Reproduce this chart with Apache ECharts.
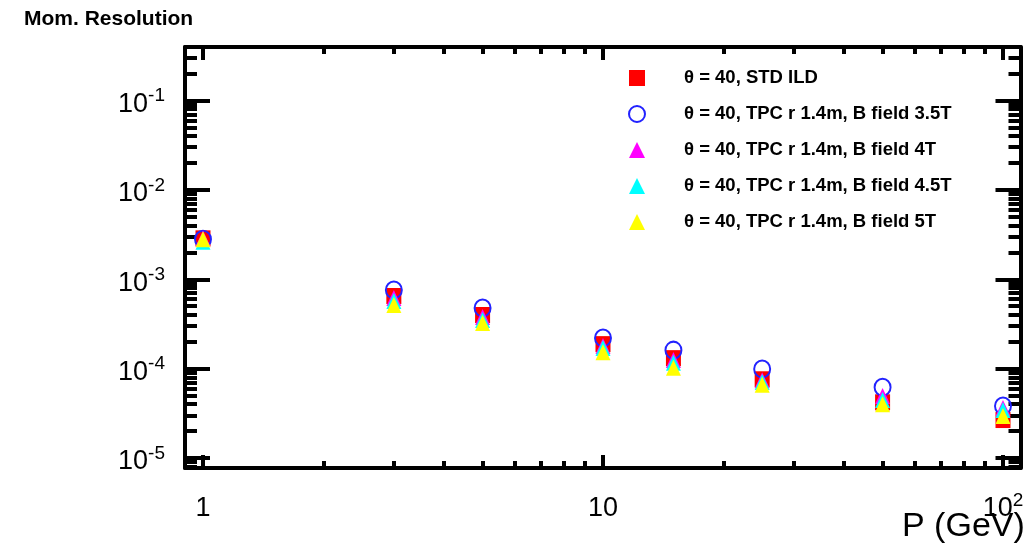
<!DOCTYPE html>
<html>
<head>
<meta charset="utf-8">
<script src="https://cdn.jsdelivr.net/npm/echarts@6/dist/echarts.min.js"></script>
<style>
  html, body { margin: 0; padding: 0; background: #fff; }
  #chart { width: 1031px; height: 549px; }
</style>
</head>
<body>
<div id="chart"></div>
<script>
// momentum points (GeV)
const momentum = [1, 3, 5, 10, 15, 25, 50, 100];
// momentum resolution per configuration
const resStdILD = [2.87e-3, 6.5e-4, 3.98e-4, 1.88e-4, 1.31e-4, 7.6e-5, 4.2e-5, 2.66e-5];
const resB35 = [2.8e-3, 7.58e-4, 4.76e-4, 2.2e-4, 1.61e-4, 9.9e-5, 6.2e-5, 3.82e-5];
const resB4 = [2.85e-3, 6.17e-4, 3.78e-4, 1.79e-4, 1.25e-4, 7.4e-5, 4.94e-5, 3.63e-5];
const resB45 = [2.63e-3, 5.71e-4, 3.5e-4, 1.7e-4, 1.16e-4, 7.1e-5, 4.46e-5, 3.45e-5];
const resB5 = [2.8e-3, 5.15e-4, 3.24e-4, 1.53e-4, 1.02e-4, 6.6e-5, 4.0e-5, 2.95e-5];

const seriesNames = [
    'θ = 40, STD ILD',
    'θ = 40, TPC r 1.4m, B field 3.5T',
    'θ = 40, TPC r 1.4m, B field 4T',
    'θ = 40, TPC r 1.4m, B field 4.5T',
    'θ = 40, TPC r 1.4m, B field 5T'
];

// axis ticks
const xMajorTicks = [1, 10, 100];
const xMinorTicks = [2, 3, 4, 5, 6, 7, 8, 9, 20, 30, 40, 50, 60, 70, 80, 90];
const yMajorTicks = [1e-5, 1e-4, 1e-3, 1e-2, 1e-1];
const yMinorTicks = [
    8e-6, 9e-6,
    2e-5, 3e-5, 4e-5, 5e-5, 6e-5, 7e-5, 8e-5, 9e-5,
    2e-4, 3e-4, 4e-4, 5e-4, 6e-4, 7e-4, 8e-4, 9e-4,
    2e-3, 3e-3, 4e-3, 5e-3, 6e-3, 7e-3, 8e-3, 9e-3,
    2e-2, 3e-2, 4e-2, 5e-2, 6e-2, 7e-2, 8e-2, 9e-2,
    2e-1, 3e-1
];

const xRange = [0.9016, 110.6];
const yRange = [7.73e-6, 0.397];

const FONT = '"Liberation Sans", Arial, Helvetica, sans-serif';

function zip(xs, ys) {
    return xs.map((x, i) => [x, ys[i]]);
}

function powLabel(value) {
    const e = Math.round(Math.log10(value));
    if (e === 0) return '{b|1}';
    if (e === 1) return '{b|10}';
    return '{b|10}{s|' + e + '}';
}

const labelRich = {
    b: { fontSize: 27, lineHeight: 36, fontFamily: FONT, color: '#000' },
    s: { fontSize: 19, lineHeight: 19, fontFamily: FONT, color: '#000', verticalAlign: 'top' }
};

// one log axis per frame side; gridIndex 1 carries the minor ticks
function logAxis(gridIndex, position, range, ticks, tickLen, tickWidth, labels, labelMargin, labelPad) {
    return {
        type: 'log',
        logBase: 10,
        gridIndex: gridIndex,
        position: position,
        min: range[0],
        max: range[1],
        axisLine: { show: gridIndex === 0, onZero: false, lineStyle: { color: '#000', width: 4 } },
        axisTick: {
            show: true,
            inside: true,
            length: tickLen,
            customValues: ticks,
            lineStyle: { color: '#000', width: tickWidth }
        },
        axisLabel: labels ? {
            show: true,
            customValues: labels,
            formatter: powLabel,
            margin: labelMargin,
            padding: labelPad || 0,
            rich: labelRich
        } : { show: false },
        splitLine: { show: false },
        minorTick: { show: false },
        minorSplitLine: { show: false }
    };
}

const gridBox = { left: 185, right: 10.5, top: 47, bottom: 81 };

const chart = echarts.init(document.getElementById('chart'), null, { renderer: 'canvas' });

const option = {
    animation: false,
    backgroundColor: '#fff',
    textStyle: { fontFamily: FONT },
    title: [{
        text: 'Mom. Resolution',
        left: 24,
        top: 9,
        padding: 0,
        textStyle: { fontSize: 21, fontWeight: 'bold', color: '#000', fontFamily: FONT, lineHeight: 21 }
    }, {
        text: 'P (GeV)',
        left: 902,
        top: 510,
        padding: 0,
        textStyle: { fontSize: 34, fontWeight: 'normal', color: '#000', fontFamily: FONT, lineHeight: 34 }
    }],
    legend: {
        orient: 'vertical',
        left: 628,
        top: 68,
        padding: 0,
        itemWidth: 16,
        itemHeight: 16,
        itemGap: 16,
        textStyle: {
            fontSize: 18.5,
            fontWeight: 'bold',
            color: '#000',
            fontFamily: FONT,
            lineHeight: 20,
            padding: [0, 0, 0, 34]
        },
        data: [
            { name: seriesNames[0], icon: 'rect' },
            { name: seriesNames[1], icon: 'circle',
              itemStyle: { color: 'rgba(0,0,0,0)', borderColor: '#2222ff', borderWidth: 2 } },
            { name: seriesNames[2], icon: 'triangle' },
            { name: seriesNames[3], icon: 'triangle' },
            { name: seriesNames[4], icon: 'triangle' }
        ]
    },
    grid: [
        Object.assign({}, gridBox),
        Object.assign({}, gridBox)
    ],
    xAxis: [
        logAxis(0, 'bottom', xRange, xMajorTicks, 13, 4, xMajorTicks, 23),
        logAxis(0, 'top', xRange, xMajorTicks, 13, 4, null),
        logAxis(1, 'bottom', xRange, xMinorTicks, 7, 4, null),
        logAxis(1, 'top', xRange, xMinorTicks, 7, 4, null)
    ],
    yAxis: [
        logAxis(0, 'left', yRange, yMajorTicks, 25, 4, yMajorTicks, 20, [8, 0, 0, 0]),
        logAxis(0, 'right', yRange, yMajorTicks, 25, 4, null),
        logAxis(1, 'left', yRange, yMinorTicks, 12, 4, null),
        logAxis(1, 'right', yRange, yMinorTicks, 12, 4, null)
    ],
    series: [{
        name: seriesNames[0],
        type: 'scatter',
        xAxisIndex: 0,
        yAxisIndex: 0,
        symbol: 'rect',
        symbolSize: [15, 16],
        itemStyle: { color: '#ff0000', opacity: 1 },
        data: zip(momentum, resStdILD)
    }, {
        name: seriesNames[1],
        type: 'scatter',
        xAxisIndex: 0,
        yAxisIndex: 0,
        symbol: 'circle',
        symbolSize: [16, 17],
        itemStyle: { color: 'rgba(0,0,0,0)', borderColor: '#2222ff', borderWidth: 2, opacity: 1 },
        data: zip(momentum, resB35)
    }, {
        name: seriesNames[2],
        type: 'scatter',
        xAxisIndex: 0,
        yAxisIndex: 0,
        symbol: 'triangle',
        symbolSize: [15, 16],
        itemStyle: { color: '#ff00ff', opacity: 1 },
        data: zip(momentum, resB4)
    }, {
        name: seriesNames[3],
        type: 'scatter',
        xAxisIndex: 0,
        yAxisIndex: 0,
        symbol: 'triangle',
        symbolSize: [15, 16],
        itemStyle: { color: '#00ffff', opacity: 1 },
        data: zip(momentum, resB45)
    }, {
        name: seriesNames[4],
        type: 'scatter',
        xAxisIndex: 0,
        yAxisIndex: 0,
        symbol: 'triangle',
        symbolSize: [15, 16],
        itemStyle: { color: '#ffff00', opacity: 1 },
        data: zip(momentum, resB5)
    }]
};

chart.setOption(option);
</script>
</body>
</html>
